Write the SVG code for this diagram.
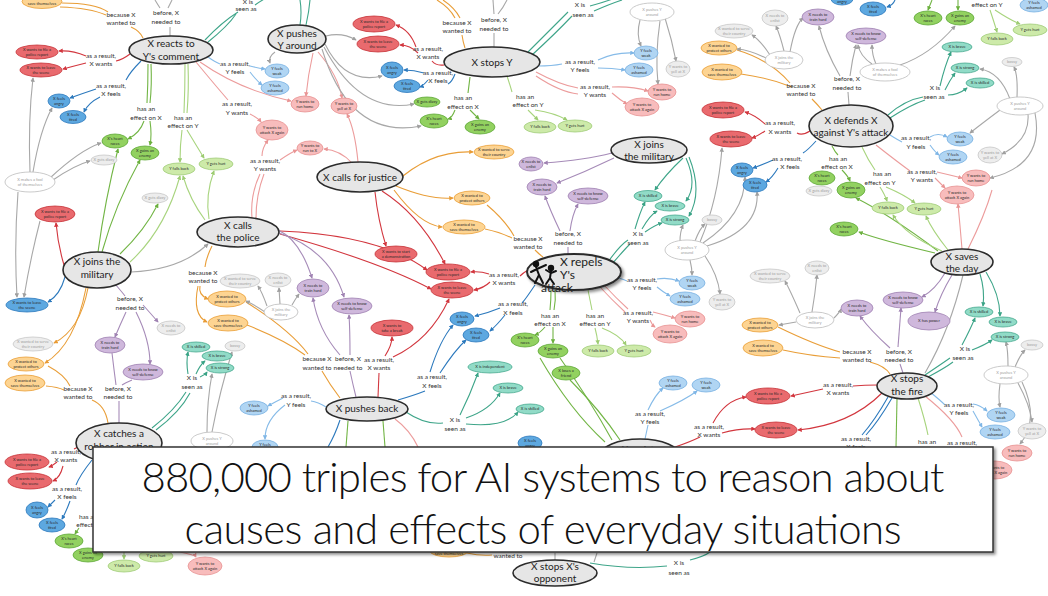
<svg xmlns="http://www.w3.org/2000/svg" width="1048" height="596" viewBox="0 0 1048 596">
<style>
text{font-family:Lato,"Open Sans","Liberation Sans",sans-serif}
.nd ellipse{stroke-width:.8}
.nd text{font-size:4px;fill:#2a2a2a;text-anchor:middle}
.r ellipse{fill:#e96a6e;stroke:#c73339}
.b ellipse{fill:#5da8e0;stroke:#2c79bd}
.lb ellipse{fill:#b0d5f3;stroke:#78b1e2}
.p ellipse{fill:#f8bcbc;stroke:#e79292}
.g ellipse{fill:#92d160;stroke:#5fa838}
.lg ellipse{fill:#cdeaa9;stroke:#9fcc77}
.o ellipse{fill:#fdd492;stroke:#eaa039}
.pu ellipse{fill:#cfb8dc;stroke:#9f82b2}
.t ellipse{fill:#91dbc7;stroke:#47aa8f}
.gr ellipse{fill:#ededed;stroke:#c8c8c8}
.w ellipse{fill:#fff;stroke:#bdbdbd}
.nd.gr text,.nd.w text{fill:#a0a0a0}
.m ellipse{fill:#e6e6e6;stroke:#2b2b2b;stroke-width:1.6}
.m text{font-size:10px;fill:#222;text-anchor:middle}
.lab text{font-size:6.5px;fill:#333;text-anchor:middle}
#connectors path{fill:none;stroke-width:1.1}
.er{stroke:#d2363e}.er.a{marker-end:url(#mr)}
.eb{stroke:#2c79bd}.eb.a{marker-end:url(#mb)}
.elb{stroke:#86bbe8}.elb.a{marker-end:url(#mlb)}
.ep{stroke:#ec9c9c}.ep.a{marker-end:url(#mp)}
.eg{stroke:#72b545}.eg.a{marker-end:url(#mg)}
.elg{stroke:#a8d47e}.elg.a{marker-end:url(#mlg)}
.eo{stroke:#e99e38}.eo.a{marker-end:url(#mo)}
.epu{stroke:#a68bb8}.epu.a{marker-end:url(#mpu)}
.et{stroke:#3ea589}.et.a{marker-end:url(#mt)}
.egr{stroke:#a8a8a8}.egr.a{marker-end:url(#mgr)}
</style>
<defs>
<marker id="mr" viewBox="0 0 6 6" refX="5" refY="3" markerWidth="4.5" markerHeight="4.5" orient="auto" markerUnits="userSpaceOnUse"><path d="M0,0L6,3L0,6z" fill="#d2363e"/></marker>
<marker id="mb" viewBox="0 0 6 6" refX="5" refY="3" markerWidth="4.5" markerHeight="4.5" orient="auto" markerUnits="userSpaceOnUse"><path d="M0,0L6,3L0,6z" fill="#2c79bd"/></marker>
<marker id="mlb" viewBox="0 0 6 6" refX="5" refY="3" markerWidth="4.5" markerHeight="4.5" orient="auto" markerUnits="userSpaceOnUse"><path d="M0,0L6,3L0,6z" fill="#7fb6e6"/></marker>
<marker id="mp" viewBox="0 0 6 6" refX="5" refY="3" markerWidth="4.5" markerHeight="4.5" orient="auto" markerUnits="userSpaceOnUse"><path d="M0,0L6,3L0,6z" fill="#e99595"/></marker>
<marker id="mg" viewBox="0 0 6 6" refX="5" refY="3" markerWidth="4.5" markerHeight="4.5" orient="auto" markerUnits="userSpaceOnUse"><path d="M0,0L6,3L0,6z" fill="#6bb03e"/></marker>
<marker id="mlg" viewBox="0 0 6 6" refX="5" refY="3" markerWidth="4.5" markerHeight="4.5" orient="auto" markerUnits="userSpaceOnUse"><path d="M0,0L6,3L0,6z" fill="#9dcc72"/></marker>
<marker id="mo" viewBox="0 0 6 6" refX="5" refY="3" markerWidth="4.5" markerHeight="4.5" orient="auto" markerUnits="userSpaceOnUse"><path d="M0,0L6,3L0,6z" fill="#e89b35"/></marker>
<marker id="mpu" viewBox="0 0 6 6" refX="5" refY="3" markerWidth="4.5" markerHeight="4.5" orient="auto" markerUnits="userSpaceOnUse"><path d="M0,0L6,3L0,6z" fill="#9f82b2"/></marker>
<marker id="mt" viewBox="0 0 6 6" refX="5" refY="3" markerWidth="4.5" markerHeight="4.5" orient="auto" markerUnits="userSpaceOnUse"><path d="M0,0L6,3L0,6z" fill="#3aa386"/></marker>
<marker id="mgr" viewBox="0 0 6 6" refX="5" refY="3" markerWidth="4.5" markerHeight="4.5" orient="auto" markerUnits="userSpaceOnUse"><path d="M0,0L6,3L0,6z" fill="#a0a0a0"/></marker>
<filter id="sh" x="-10%" y="-20%" width="130%" height="150%"><feDropShadow dx="2" dy="2" stdDeviation="1.5" flood-color="#000" flood-opacity="0.45"/></filter>
</defs>
<rect width="1048" height="596" fill="#fff"/>
<g id="connectors">
<path class="er" d="M130,54 Q122,60 116,61"/><path class="er" d="M444,65 Q436,66 432,61"/><path class="er" d="M810,131 Q802,136 797,133"/><path class="er" d="M528,270 Q523,273 520,276"/><path class="er" d="M877,385 Q865,385 853,386"/><path class="er" d="M378,397 L379,373"/><path class="er" d="M80,446 Q76,448 74,449"/><path class="er" d="M700,437 Q690,442 675,447"/>
<path class="er a" d="M86,56 Q72,50 59,51"/><path class="er a" d="M86,63 Q74,66 63,69"/><path class="er a" d="M416,47 Q410,30 396,25"/><path class="er a" d="M418,53 Q410,45 400,45"/><path class="er a" d="M765,124 Q755,115 745,112"/><path class="er a" d="M765,131 Q758,136 752,138"/><path class="er a" d="M375,192 Q378,220 386,246"/><path class="er a" d="M382,191 Q420,215 445,264"/><path class="er a" d="M280,231 Q380,235 427,270"/><path class="er a" d="M280,234 Q380,262 431,289"/><path class="er a" d="M64,265 Q58,245 56,223"/><path class="er a" d="M489,274 Q480,271 471,272"/><path class="er a" d="M490,282 Q484,288 474,290"/><path class="er a" d="M823,389 Q805,393 791,396"/><path class="er a" d="M882,393 Q850,425 798,430"/><path class="er a" d="M385,356 Q392,345 392,337"/><path class="er a" d="M393,357 Q430,340 449,299"/><path class="er a" d="M57,462 Q52,466 49,467"/><path class="er a" d="M63,466 Q60,478 53,481"/><path class="er a" d="M713,423 Q725,400 746,397"/><path class="er a" d="M722,433 Q740,428 755,429"/>
<path class="eb" d="M141,61 Q130,72 126,80"/><path class="eb" d="M455,74 Q452,82 448,84"/><path class="eb" d="M816,141 Q808,150 803,153"/><path class="eb" d="M535,285 Q525,300 522,303"/><path class="eb" d="M398,400 Q415,395 425,391"/><path class="eb" d="M92,460 Q80,475 76,485"/><path class="eb" d="M888,397 Q875,420 862,435"/><path class="eb" d="M892,398 Q878,422 866,435"/><path class="eb" d="M340,420 Q335,435 328,447"/>
<path class="eb a" d="M895,0 Q893,5 887,7"/><path class="eb a" d="M96,89 Q84,93 70,98"/><path class="eb a" d="M100,97 Q88,103 84,112"/><path class="eb a" d="M424,73 Q414,70 404,70"/><path class="eb a" d="M428,80 Q423,86 420,87"/><path class="eb a" d="M773,160 Q762,165 753,168"/><path class="eb a" d="M778,168 Q772,178 766,182"/><path class="eb a" d="M65,277 Q60,295 48,302"/><path class="eb a" d="M500,308 Q488,313 475,316"/><path class="eb a" d="M505,315 Q497,325 490,331"/><path class="eb a" d="M430,372 Q440,340 453,325"/><path class="eb a" d="M440,373 Q455,350 466,340"/><path class="eb a" d="M55,500 Q50,505 48,507"/><path class="eb a" d="M70,501 Q66,512 62,519"/>
<path class="elb" d="M208,57 Q215,62 220,64"/><path class="elb" d="M538,66 Q552,66 562,64"/><path class="elb" d="M890,135 Q898,140 902,142"/><path class="elb" d="M619,278 Q625,280 627,281"/><path class="elb" d="M326,407 Q318,402 311,401"/><path class="elb" d="M930,392 Q940,400 945,405"/><path class="elb" d="M648,425 L645,439"/>
<path class="elb a" d="M250,66 Q258,68 265,69"/><path class="elb a" d="M250,72 Q256,80 262,85"/><path class="elb a" d="M598,60 Q615,52 634,53"/><path class="elb a" d="M598,68 Q612,68 625,70"/><path class="elb a" d="M930,137 Q938,132 947,137"/><path class="elb a" d="M930,145 Q935,152 939,155"/><path class="elb a" d="M657,279 Q668,277 679,281"/><path class="elb a" d="M657,287 Q663,292 670,296"/><path class="elb a" d="M283,398 Q275,402 268,406"/><path class="elb a" d="M285,405 Q265,420 265,439"/><path class="elb a" d="M973,404 Q980,405 987,411"/><path class="elb a" d="M973,411 Q978,420 982,427"/><path class="elb a" d="M648,410 Q655,395 663,388"/><path class="elb a" d="M660,411 Q685,400 697,391"/>
<path class="ep" d="M196,62 Q215,85 228,100"/><path class="ep" d="M252,218 Q250,195 260,174"/><path class="ep" d="M256,218 Q256,195 264,174"/><path class="ep" d="M536,72 Q560,85 578,88"/><path class="ep" d="M536,76 Q560,92 578,94"/><path class="ep" d="M876,145 Q895,160 910,171"/><path class="ep" d="M600,287 Q612,300 625,312"/><path class="ep" d="M603,284 Q616,298 628,309"/><path class="ep" d="M968,249 Q985,215 992,190"/><path class="ep" d="M925,396 Q955,420 962,437"/><path class="ep" d="M395,419 Q410,430 418,447"/>
<path class="ep a" d="M200,62 Q240,90 291,101"/><path class="ep a" d="M250,114 Q258,118 261,122"/><path class="ep a" d="M262,156 Q262,148 268,140"/><path class="ep a" d="M280,160 Q290,153 297,150"/><path class="ep a" d="M313,53 Q308,75 306,96"/><path class="ep a" d="M318,52 Q338,75 342,98"/><path class="ep a" d="M358,162 Q355,130 347,114"/><path class="ep a" d="M352,163 Q340,150 324,149"/><path class="ep a" d="M612,87 Q632,86 648,91"/><path class="ep a" d="M612,93 Q620,100 627,104"/><path class="ep a" d="M937,172 Q950,175 962,178"/><path class="ep a" d="M935,178 Q942,185 945,188"/><path class="ep a" d="M653,312 Q665,315 675,318"/><path class="ep a" d="M650,320 Q652,325 655,327"/><path class="ep a" d="M962,249 Q960,225 958,204"/><path class="ep a" d="M180,552 Q195,555 196,557"/>
<path class="eg" d="M148,64 Q148,85 147,103"/><path class="eg" d="M151,64 Q152,85 150,103"/><path class="eg" d="M470,77 Q469,85 468,93"/><path class="eg" d="M832,146 Q835,152 838,155"/><path class="eg" d="M551,290 Q551,300 550,310"/><path class="eg" d="M555,290 Q556,300 554,310"/><path class="eg" d="M560,358 Q590,400 612,440"/><path class="eg" d="M570,380 Q600,410 620,440"/><path class="eg" d="M540,358 Q570,410 605,442"/><path class="eg" d="M897,399 L896,447"/><path class="eg" d="M348,421 L346,447"/><path class="eg" d="M383,421 L385,447"/>
<path class="eg a" d="M144,121 Q140,133 128,139"/><path class="eg a" d="M150,121 Q152,135 150,145"/><path class="eg a" d="M455,110 Q452,118 448,119"/><path class="eg a" d="M470,110 Q476,116 479,119"/><path class="eg a" d="M842,170 Q848,176 850,181"/><path class="eg a" d="M98,252 Q105,200 118,149"/><path class="eg a" d="M102,252 Q115,205 140,160"/><path class="eg a" d="M120,254 Q145,230 158,204"/><path class="eg a" d="M545,327 Q540,333 535,335"/><path class="eg a" d="M553,327 L553,343"/><path class="eg a" d="M935,253 Q880,240 859,232"/><path class="eg a" d="M938,251 Q890,215 856,198"/><path class="eg a" d="M932,0 Q930,5 928,10"/><path class="eg a" d="M958,0 Q958,5 958,10"/><path class="eg a" d="M79,528 L75,534"/>
<path class="elg" d="M185,64 Q185,90 184,113"/><path class="elg" d="M188,64 Q189,90 187,113"/><path class="elg" d="M507,76 Q510,85 512,92"/><path class="elg" d="M862,147 Q868,160 875,170"/><path class="elg" d="M588,290 Q590,300 592,310"/><path class="elg" d="M918,398 Q925,420 928,435"/>
<path class="elg a" d="M182,130 Q180,145 180,162"/><path class="elg a" d="M187,130 Q196,145 204,158"/><path class="elg a" d="M528,110 Q534,116 538,120"/><path class="elg a" d="M535,110 Q555,113 567,120"/><path class="elg a" d="M880,187 Q885,195 887,201"/><path class="elg a" d="M886,187 Q905,195 915,203"/><path class="elg a" d="M205,220 Q190,200 183,176"/><path class="elg a" d="M209,219 Q205,195 214,171"/><path class="elg a" d="M595,328 Q597,335 598,344"/><path class="elg a" d="M602,328 Q620,335 626,345"/><path class="elg a" d="M942,251 Q905,235 893,215"/><path class="elg a" d="M948,250 Q932,230 926,216"/><path class="elg a" d="M990,10 Q995,25 997,32"/><path class="elg a" d="M995,10 Q1010,20 1020,24"/><path class="elg a" d="M124,552 L124,559"/><path class="elg a" d="M130,262 Q165,230 180,176"/>
<path class="eo" d="M60,7 Q90,8 106,15"/><path class="eo" d="M62,3 Q95,3 108,12"/><path class="eo" d="M131,27 Q140,31 143,38"/><path class="eo" d="M437,0 Q450,8 455,18"/><path class="eo" d="M443,0 Q455,8 460,18"/><path class="eo" d="M462,35 Q463,42 465,48"/><path class="eo" d="M737,50 Q770,60 790,83"/><path class="eo" d="M741,74 Q770,78 792,87"/><path class="eo" d="M812,99 Q818,105 822,110"/><path class="eo" d="M212,246 Q206,258 205,267"/><path class="eo" d="M246,302 Q290,330 308,354"/><path class="eo" d="M247,325 Q285,340 305,355"/><path class="eo" d="M487,205 Q505,220 514,236"/><path class="eo" d="M485,229 Q500,232 512,238"/><path class="eo" d="M535,250 Q540,255 543,257"/><path class="eo" d="M48,366 Q65,375 70,386"/><path class="eo" d="M46,386 Q58,387 64,390"/><path class="eo" d="M92,400 Q105,405 108,423"/><path class="eo" d="M322,371 Q330,385 340,398"/><path class="eo" d="M778,327 Q815,345 840,352"/><path class="eo" d="M783,350 Q810,356 840,358"/><path class="eo" d="M870,362 Q885,366 890,374"/><path class="eo" d="M467,553 Q480,556 492,555"/>
<path class="eo a" d="M395,183 Q430,150 473,152"/><path class="eo a" d="M396,186 Q430,200 453,198"/><path class="eo a" d="M394,190 Q420,225 442,227"/><path class="eo a" d="M200,286 Q198,295 208,299"/><path class="eo a" d="M198,286 Q192,315 207,322"/><path class="eo a" d="M88,288 Q80,330 54,343"/><path class="eo a" d="M86,288 Q75,345 45,363"/>
<path class="epu" d="M115,284 Q122,292 125,296"/><path class="epu" d="M568,247 L568,254"/><path class="epu" d="M900,364 L903,373"/><path class="epu" d="M350,371 Q353,385 356,397"/><path class="epu" d="M119,401 L119,423"/><path class="epu" d="M112,353 Q114,370 116,385"/><path class="epu" d="M132,380 Q125,383 122,385"/>
<path class="epu a" d="M612,153 Q585,160 544,163"/><path class="epu a" d="M614,158 Q585,172 557,183"/><path class="epu a" d="M278,230 Q300,240 312,278"/><path class="epu a" d="M279,233 Q330,250 344,297"/><path class="epu a" d="M143,305 Q152,315 158,322"/><path class="epu a" d="M126,312 Q120,325 115,337"/><path class="epu a" d="M136,312 Q150,340 150,364"/><path class="epu a" d="M560,231 Q550,210 545,196"/><path class="epu a" d="M570,231 Q572,215 578,204"/><path class="epu a" d="M945,273 Q935,290 922,297"/><path class="epu a" d="M952,275 Q940,295 935,312"/><path class="epu a" d="M890,348 Q870,330 860,316"/><path class="epu a" d="M898,347 Q900,320 901,308"/><path class="epu a" d="M340,355 Q318,330 313,298"/><path class="epu a" d="M350,355 Q350,330 349,315"/>
<path class="et" d="M205,40 Q222,22 238,12"/><path class="et" d="M208,42 Q228,26 236,14"/><path class="et" d="M255,5 Q262,0 268,-3"/><path class="et" d="M300,25 Q302,12 300,0"/><path class="et" d="M306,25 Q309,12 310,0"/><path class="et" d="M528,52 Q550,30 568,12"/><path class="et" d="M532,55 Q556,33 572,16"/><path class="et" d="M590,6 Q605,2 615,-2"/><path class="et" d="M594,11 Q610,4 622,0"/><path class="et" d="M888,115 Q905,100 923,97"/><path class="et" d="M890,118 Q910,105 925,100"/><path class="et" d="M608,262 Q620,245 628,240"/><path class="et" d="M612,264 Q624,250 630,244"/><path class="et" d="M925,375 Q940,365 950,358"/><path class="et" d="M928,377 Q945,368 953,362"/><path class="et" d="M406,412 Q425,425 443,423"/><path class="et" d="M152,428 Q175,410 186,392"/><path class="et" d="M156,430 Q180,412 190,393"/><path class="et" d="M590,563 Q630,570 667,566"/><path class="et" d="M690,560 Q705,556 710,552"/>
<path class="et a" d="M980,274 Q985,290 983,306"/><path class="et a" d="M986,272 Q1000,295 1000,316"/><path class="et a" d="M683,158 Q665,175 655,190"/><path class="et a" d="M686,158 Q698,185 686,201"/><path class="et a" d="M689,157 Q703,192 689,216"/><path class="et a" d="M940,86 Q945,65 951,52"/><path class="et a" d="M945,90 Q950,80 955,73"/><path class="et a" d="M948,95 Q958,95 967,88"/><path class="et a" d="M635,229 Q640,212 645,202"/><path class="et a" d="M642,229 Q650,215 657,211"/><path class="et a" d="M645,232 Q655,225 662,223"/><path class="et a" d="M962,345 Q970,330 975,318"/><path class="et a" d="M972,350 Q985,345 992,340"/><path class="et a" d="M460,415 Q470,395 478,373"/><path class="et a" d="M466,418 Q490,410 500,393"/><path class="et a" d="M466,424 Q505,428 518,412"/><path class="et a" d="M188,374 Q186,362 188,352"/><path class="et a" d="M196,374 Q200,365 205,361"/><path class="et a" d="M200,377 Q205,375 207,372"/>
<path class="egr" d="M155,0 Q158,5 160,8"/><path class="egr" d="M172,0 Q170,4 168,8"/><path class="egr" d="M170,27 L170,36"/><path class="egr" d="M493,0 L494,14"/><path class="egr" d="M507,0 Q503,8 498,14"/><path class="egr" d="M494,33 L494,47"/><path class="egr" d="M848,92 L849,105"/><path class="egr" d="M963,275 Q950,330 925,373"/><path class="egr" d="M555,553 L555,560"/><path class="egr" d="M597,553 L594,562"/>
<path class="egr a" d="M131,272 Q180,270 208,244"/><path class="egr a" d="M207,432 Q207,400 212,374"/><path class="egr a" d="M212,432 Q220,390 232,352"/><path class="egr a" d="M326,36 Q342,32 356,40"/><path class="egr a" d="M325,44 Q345,85 382,76"/><path class="egr a" d="M324,47 Q360,115 414,104"/><path class="egr a" d="M322,49 Q350,140 421,126"/><path class="egr a" d="M275,52 Q268,57 270,63"/><path class="egr a" d="M640,20 Q636,35 641,46"/><path class="egr a" d="M665,18 Q672,40 676,61"/><path class="egr a" d="M660,21 Q655,55 658,84"/><path class="egr a" d="M840,76 Q825,50 819,26"/><path class="egr a" d="M850,76 Q852,60 856,45"/><path class="egr a" d="M872,64 Q860,56 858,45"/><path class="egr a" d="M876,64 Q872,55 872,45"/><path class="egr a" d="M900,65 Q930,55 955,26"/><path class="egr a" d="M1017,97 Q1018,75 1014,67"/><path class="egr a" d="M1010,99 Q1000,72 980,69"/><path class="egr a" d="M1000,110 Q980,125 970,133"/><path class="egr a" d="M1028,114 Q1030,140 1002,154"/><path class="egr a" d="M1035,113 Q1045,165 990,178"/><path class="egr a" d="M784,51 Q780,35 776,26"/><path class="egr a" d="M770,55 Q760,40 752,35"/><path class="egr a" d="M766,58 Q750,50 737,49"/><path class="egr a" d="M790,52 Q795,25 803,18"/><path class="egr a" d="M280,304 L279,288"/><path class="egr a" d="M267,306 Q262,292 258,286"/><path class="egr a" d="M265,312 Q255,305 246,301"/><path class="egr a" d="M292,305 Q296,298 299,294"/><path class="egr a" d="M695,241 Q700,228 705,224"/><path class="egr a" d="M680,241 Q680,232 683,225"/><path class="egr a" d="M690,260 Q692,268 692,275"/><path class="egr a" d="M705,256 Q718,275 720,294"/><path class="egr a" d="M707,246 Q760,230 757,192"/><path class="egr a" d="M703,243 Q745,215 745,177"/><path class="egr a" d="M700,242 Q718,200 722,148"/><path class="egr a" d="M812,312 Q815,295 817,275"/><path class="egr a" d="M834,318 Q840,312 841,309"/><path class="egr a" d="M800,313 Q790,290 785,281"/><path class="egr a" d="M796,322 L779,325"/><path class="egr a" d="M1015,367 Q1020,355 1025,350"/><path class="egr a" d="M1008,366 Q1008,350 1006,342"/><path class="egr a" d="M1000,384 Q998,398 1000,407"/><path class="egr a" d="M1018,383 Q1030,405 1032,422"/><path class="egr a" d="M1022,382 Q1040,420 1020,444"/><path class="egr a" d="M30,172 Q28,120 33,78"/><path class="egr a" d="M33,172 Q40,130 52,108"/><path class="egr a" d="M50,178 Q80,150 101,143"/><path class="egr a" d="M53,180 Q75,165 90,161"/><path class="egr a" d="M18,192 Q14,245 17,297"/><path class="egr a" d="M40,221 Q30,260 24,297"/>
<g class="lab">
<text x="121" y="17">because X</text><text x="121" y="25">wanted to</text>
<text x="166" y="15">before, X</text><text x="166" y="24">needed to</text>
<text x="248" y="4">X is</text><text x="246" y="11">seen as</text>
<text x="101" y="58">as a result,</text><text x="101" y="66">X wants</text>
<text x="111" y="88">as a result,</text><text x="111" y="96">X feels</text>
<text x="146" y="111">has an</text><text x="146" y="120">effect on X</text>
<text x="183" y="120">has an</text><text x="183" y="128">effect on Y</text>
<text x="235" y="66">as a result,</text><text x="235" y="74">Y feels</text>
<text x="237" y="106">as a result,</text><text x="237" y="115">Y wants</text>
<text x="265" y="163">as a result,</text><text x="265" y="171">Y wants</text>
<text x="457" y="25">because X</text><text x="457" y="33">wanted to</text>
<text x="494" y="22">before, X</text><text x="494" y="31">needed to</text>
<text x="428" y="51">as a result,</text><text x="428" y="59">X wants</text>
<text x="438" y="75">as a result,</text><text x="438" y="83">X feels</text>
<text x="463" y="100">has an</text><text x="463" y="109">effect on X</text>
<text x="525" y="99">has an</text><text x="528" y="107">effect on Y</text>
<text x="580" y="64">as a result,</text><text x="580" y="72">Y feels</text>
<text x="595" y="89">as a result,</text><text x="595" y="97">Y wants</text>
<text x="580" y="7">X is</text><text x="583" y="17">seen as</text>
<text x="801" y="88">because X</text><text x="801" y="96">wanted to</text>
<text x="847" y="81">before, X</text><text x="847" y="90">needed to</text>
<text x="935" y="90">X is</text><text x="934" y="99">seen as</text>
<text x="780" y="125">as a result,</text><text x="780" y="134">X wants</text>
<text x="787" y="161">as a result,</text><text x="790" y="169">X feels</text>
<text x="838" y="161">has an</text><text x="837" y="169">effect on X</text>
<text x="882" y="176">has an</text><text x="880" y="185">effect on Y</text>
<text x="916" y="140">as a result,</text><text x="916" y="149">Y feels</text>
<text x="922" y="174">as a result,</text><text x="922" y="182">Y wants</text>
<text x="987" y="7">effect on Y</text>
<text x="203" y="275">because X</text><text x="203" y="283">wanted to</text>
<text x="130" y="301">before, X</text><text x="130" y="310">needed to</text>
<text x="528" y="241">because X</text><text x="528" y="249">wanted to</text>
<text x="568" y="236">before, X</text><text x="568" y="245">needed to</text>
<text x="638" y="236">X is</text><text x="638" y="245">seen as</text>
<text x="504" y="277">as a result,</text><text x="504" y="285">X wants</text>
<text x="513" y="306">as a result,</text><text x="513" y="315">X feels</text>
<text x="550" y="318">has an</text><text x="550" y="326">effect on X</text>
<text x="595" y="318">has an</text><text x="595" y="326">effect on Y</text>
<text x="642" y="282">as a result,</text><text x="642" y="290">Y feels</text>
<text x="638" y="315">as a result,</text><text x="638" y="323">Y wants</text>
<text x="857" y="354">because X</text><text x="857" y="362">wanted to</text>
<text x="899" y="354">before, X</text><text x="899" y="362">needed to</text>
<text x="965" y="351">X is</text><text x="963" y="360">seen as</text>
<text x="838" y="387">as a result,</text><text x="838" y="395">X wants</text>
<text x="959" y="407">as a result,</text><text x="959" y="415">Y feels</text>
<text x="856" y="441">as a result,</text><text x="856" y="449">X feels</text>
<text x="927" y="444">has an</text><text x="927" y="452">effect on X</text>
<text x="962" y="445">as a result,</text><text x="962" y="453">Y wants</text>
<text x="317" y="361">because X</text><text x="317" y="370">wanted to</text>
<text x="348" y="361">before, X</text><text x="348" y="370">needed to</text>
<text x="379" y="362">as a result,</text><text x="379" y="370">X wants</text>
<text x="432" y="379">as a result,</text><text x="432" y="388">X feels</text>
<text x="296" y="398">as a result,</text><text x="296" y="407">Y feels</text>
<text x="455" y="422">X is</text><text x="455" y="431">seen as</text>
<text x="78" y="391">because X</text><text x="78" y="399">wanted to</text>
<text x="118" y="391">before, X</text><text x="118" y="399">needed to</text>
<text x="192" y="380">X is</text><text x="192" y="389">seen as</text>
<text x="66" y="454">as a result,</text><text x="66" y="462">X wants</text>
<text x="67" y="491">as a result,</text><text x="67" y="499">X feels</text>
<text x="88" y="519">has an</text><text x="92" y="527">effect on X</text>
<text x="650" y="416">as a result,</text><text x="650" y="424">Y feels</text>
<text x="709" y="429">as a result,</text><text x="709" y="437">X wants</text>
<text x="679" y="565">X is</text><text x="679" y="575">seen as</text>
<text x="508" y="558">wanted to</text>
</g>
</g>
<g id="n1" class="nd o"><ellipse cx="42" cy="1.5" rx="20" ry="7"/><text x="42" y="5.2">save themselves</text></g>
<g id="n2" class="nd r"><ellipse cx="37" cy="52" rx="21" ry="7"/><text x="37" y="51.4">X wants to file a<tspan x="37" dy="4.2">police report</tspan></text></g>
<g id="n3" class="nd r"><ellipse cx="41" cy="70" rx="21" ry="7"/><text x="41" y="69.4">X wants to leave<tspan x="41" dy="4.2">the scene</tspan></text></g>
<g id="n4" class="nd b"><ellipse cx="59" cy="101" rx="11" ry="7"/><text x="59" y="100.4">X feels<tspan x="59" dy="4.2">angry</tspan></text></g>
<g id="n5" class="nd b"><ellipse cx="73" cy="117" rx="13" ry="6.5"/><text x="73" y="116.4">X feels<tspan x="73" dy="4.2">tired</tspan></text></g>
<g id="n6" class="nd g"><ellipse cx="115" cy="141" rx="13" ry="7"/><text x="115" y="140.4">X's heart<tspan x="115" dy="4.2">races</tspan></text></g>
<g id="n7" class="nd g"><ellipse cx="145" cy="153" rx="14" ry="7"/><text x="145" y="152.4">X gains an<tspan x="145" dy="4.2">enemy</tspan></text></g>
<g id="n8" class="nd gr"><ellipse cx="104" cy="160" rx="13" ry="5"/><text x="104" y="161.4">X gets dizzy</text></g>
<g id="n9" class="nd lg"><ellipse cx="179" cy="169" rx="16" ry="6"/><text x="179" y="170.4">Y falls back</text></g>
<g id="n10" class="nd lg"><ellipse cx="216" cy="164" rx="17" ry="6"/><text x="216" y="165.4">Y gets hurt</text></g>
<g id="n11" class="nd gr"><ellipse cx="155" cy="198" rx="13" ry="5"/><text x="155" y="199.4">X gets dizzy</text></g>
<g id="n12" class="nd w"><ellipse cx="30" cy="182" rx="25" ry="10"/><text x="30" y="181.4">X makes a fool<tspan x="30" dy="4.2">of themselves</tspan></text></g>
<g id="n13" class="nd lb"><ellipse cx="277" cy="71" rx="12" ry="7"/><text x="277" y="70.4">Y feels<tspan x="277" dy="4.2">weak</tspan></text></g>
<g id="n14" class="nd lb"><ellipse cx="275" cy="88" rx="14" ry="7"/><text x="275" y="87.4">Y feels<tspan x="275" dy="4.2">ashamed</tspan></text></g>
<g id="n15" class="nd p"><ellipse cx="305" cy="104" rx="14" ry="8"/><text x="305" y="103.4">Y wants to<tspan x="305" dy="4.2">run home</tspan></text></g>
<g id="n16" class="nd p"><ellipse cx="344" cy="106" rx="13" ry="8"/><text x="344" y="105.4">Y wants to<tspan x="344" dy="4.2">yell at X</tspan></text></g>
<g id="n17" class="nd p"><ellipse cx="272" cy="130" rx="16" ry="10"/><text x="272" y="129.4">Y wants to<tspan x="272" dy="4.2">attack X again</tspan></text></g>
<g id="n18" class="nd p"><ellipse cx="310" cy="148" rx="13" ry="7"/><text x="310" y="147.4">Y wants to<tspan x="310" dy="4.2">run to X</tspan></text></g>
<g id="n19" class="nd r"><ellipse cx="374" cy="24" rx="21" ry="8"/><text x="374" y="23.4">X wants to file a<tspan x="374" dy="4.2">police report</tspan></text></g>
<g id="n20" class="nd r"><ellipse cx="378" cy="44" rx="21" ry="8"/><text x="378" y="43.4">X wants to leave<tspan x="378" dy="4.2">the scene</tspan></text></g>
<g id="n21" class="nd b"><ellipse cx="392" cy="70" rx="11" ry="8"/><text x="392" y="69.4">X feels<tspan x="392" dy="4.2">angry</tspan></text></g>
<g id="n22" class="nd b"><ellipse cx="407" cy="86" rx="13" ry="6.5"/><text x="407" y="85.4">X feels<tspan x="407" dy="4.2">tired</tspan></text></g>
<g id="n23" class="nd g"><ellipse cx="427" cy="102" rx="13" ry="5"/><text x="427" y="103.4">X gets dizzy</text></g>
<g id="n24" class="nd g"><ellipse cx="434" cy="121" rx="14" ry="7"/><text x="434" y="120.4">X's heart<tspan x="434" dy="4.2">races</tspan></text></g>
<g id="n25" class="nd g"><ellipse cx="480" cy="127" rx="15" ry="7"/><text x="480" y="126.4">X gains an<tspan x="480" dy="4.2">enemy</tspan></text></g>
<g id="n26" class="nd o"><ellipse cx="494" cy="152" rx="20" ry="7"/><text x="494" y="151.4">X wanted to serve<tspan x="494" dy="4.2">their country</tspan></text></g>
<g id="n27" class="nd o"><ellipse cx="472" cy="198" rx="18" ry="7"/><text x="472" y="197.4">X wanted to<tspan x="472" dy="4.2">protect others</tspan></text></g>
<g id="n28" class="nd pu"><ellipse cx="531" cy="164" rx="12" ry="7"/><text x="531" y="163.4">X needs to<tspan x="531" dy="4.2">enlist</tspan></text></g>
<g id="n29" class="nd pu"><ellipse cx="542" cy="187" rx="15" ry="8"/><text x="542" y="186.4">X needs to<tspan x="542" dy="4.2">train hard</tspan></text></g>
<g id="n30" class="nd pu"><ellipse cx="588" cy="196" rx="20" ry="8"/><text x="588" y="195.4">X needs to know<tspan x="588" dy="4.2">self-defense</tspan></text></g>
<g id="n31" class="nd t"><ellipse cx="648" cy="196" rx="14" ry="5.5"/><text x="648" y="197.4">X is skilled</text></g>
<g id="n32" class="nd t"><ellipse cx="670" cy="206" rx="15" ry="5"/><text x="670" y="207.4">X is brave</text></g>
<g id="n33" class="nd t"><ellipse cx="675" cy="220" rx="14" ry="5"/><text x="675" y="221.4">X is strong</text></g>
<g id="n34" class="nd gr"><ellipse cx="712" cy="220" rx="10" ry="5"/><text x="712" y="221.4">bossy</text></g>
<g id="n35" class="nd w"><ellipse cx="687" cy="250" rx="22" ry="10"/><text x="687" y="249.4">X pushes Y<tspan x="687" dy="4.2">around</tspan></text></g>
<g id="n36" class="nd lg"><ellipse cx="540" cy="127" rx="16" ry="6"/><text x="540" y="128.4">Y falls back</text></g>
<g id="n37" class="nd lg"><ellipse cx="575" cy="126" rx="17" ry="6"/><text x="575" y="127.4">Y gets hurt</text></g>
<g id="n38" class="nd w"><ellipse cx="652" cy="12" rx="22" ry="9"/><text x="652" y="11.4">X pushes Y<tspan x="652" dy="4.2">around</tspan></text></g>
<g id="n39" class="nd lb"><ellipse cx="646" cy="53" rx="12" ry="7"/><text x="646" y="52.4">Y feels<tspan x="646" dy="4.2">weak</tspan></text></g>
<g id="n40" class="nd lb"><ellipse cx="639" cy="70" rx="14" ry="7"/><text x="639" y="69.4">Y feels<tspan x="639" dy="4.2">ashamed</tspan></text></g>
<g id="n41" class="nd gr"><ellipse cx="678" cy="69" rx="12" ry="8"/><text x="678" y="68.4">Y wants to<tspan x="678" dy="4.2">yell at X</tspan></text></g>
<g id="n42" class="nd p"><ellipse cx="662" cy="92" rx="14" ry="8"/><text x="662" y="91.4">Y wants to<tspan x="662" dy="4.2">run home</tspan></text></g>
<g id="n43" class="nd p"><ellipse cx="642" cy="107" rx="17" ry="9"/><text x="642" y="106.4">Y wants to<tspan x="642" dy="4.2">attack X again</tspan></text></g>
<g id="n44" class="nd gr"><ellipse cx="775" cy="18" rx="13" ry="8"/><text x="775" y="17.4">X needs to<tspan x="775" dy="4.2">enlist</tspan></text></g>
<g id="n45" class="nd gr"><ellipse cx="734" cy="31" rx="19" ry="7"/><text x="734" y="30.4">X wanted to serve<tspan x="734" dy="4.2">their country</tspan></text></g>
<g id="n46" class="nd o"><ellipse cx="719" cy="48" rx="18" ry="7"/><text x="719" y="47.4">X wanted to<tspan x="719" dy="4.2">protect others</tspan></text></g>
<g id="n47" class="nd o"><ellipse cx="722" cy="72" rx="20" ry="8"/><text x="722" y="71.4">X wanted to<tspan x="722" dy="4.2">save themselves</tspan></text></g>
<g id="n48" class="nd w"><ellipse cx="784" cy="60" rx="19" ry="9"/><text x="784" y="59.4">X joins the<tspan x="784" dy="4.2">military</tspan></text></g>
<g id="n49" class="nd r"><ellipse cx="723" cy="110" rx="21" ry="8"/><text x="723" y="109.4">X wants to file a<tspan x="723" dy="4.2">police report</tspan></text></g>
<g id="n50" class="nd r"><ellipse cx="731" cy="139" rx="21" ry="8"/><text x="731" y="138.4">X wants to leave<tspan x="731" dy="4.2">the scene</tspan></text></g>
<g id="n51" class="nd b"><ellipse cx="742" cy="170" rx="11" ry="7"/><text x="742" y="169.4">X feels<tspan x="742" dy="4.2">angry</tspan></text></g>
<g id="n52" class="nd b"><ellipse cx="755" cy="185" rx="12" ry="7"/><text x="755" y="184.4">X feels<tspan x="755" dy="4.2">tired</tspan></text></g>
<g id="n53" class="nd b"><ellipse cx="842" cy="-1" rx="11" ry="6"/><text x="842" y="3">angry</text></g>
<g id="n54" class="nd b"><ellipse cx="873" cy="9" rx="13" ry="7"/><text x="873" y="8.4">X feels<tspan x="873" dy="4.2">tired</tspan></text></g>
<g id="n55" class="nd g"><ellipse cx="928" cy="18" rx="14" ry="7"/><text x="928" y="17.4">X's heart<tspan x="928" dy="4.2">races</tspan></text></g>
<g id="n56" class="nd g"><ellipse cx="960" cy="18" rx="14" ry="7"/><text x="960" y="17.4">X gains an<tspan x="960" dy="4.2">enemy</tspan></text></g>
<g id="n57" class="nd lb"><ellipse cx="1034" cy="5" rx="14" ry="7"/><text x="1034" y="4.4">Y feels<tspan x="1034" dy="4.2">ashamed</tspan></text></g>
<g id="n58" class="nd lg"><ellipse cx="997" cy="39" rx="16" ry="6"/><text x="997" y="40.4">Y falls back</text></g>
<g id="n59" class="nd lg"><ellipse cx="1030" cy="30" rx="17" ry="6"/><text x="1030" y="31.4">Y gets hurt</text></g>
<g id="n60" class="nd pu"><ellipse cx="818" cy="17" rx="16" ry="8"/><text x="818" y="16.4">X needs to<tspan x="818" dy="4.2">train hard</tspan></text></g>
<g id="n61" class="nd pu"><ellipse cx="866" cy="36" rx="20" ry="8"/><text x="866" y="35.4">X needs to know<tspan x="866" dy="4.2">self-defense</tspan></text></g>
<g id="n62" class="nd w"><ellipse cx="885" cy="72" rx="25" ry="9"/><text x="885" y="71.4">X makes a fool<tspan x="885" dy="4.2">of themselves</tspan></text></g>
<g id="n63" class="nd t"><ellipse cx="957" cy="47" rx="15" ry="5"/><text x="957" y="48.4">X is brave</text></g>
<g id="n64" class="nd t"><ellipse cx="965" cy="68" rx="14" ry="5"/><text x="965" y="69.4">X is strong</text></g>
<g id="n65" class="nd t"><ellipse cx="980" cy="83" rx="14" ry="5"/><text x="980" y="84.4">X is skilled</text></g>
<g id="n66" class="nd gr"><ellipse cx="1012" cy="62" rx="10" ry="4.5"/><text x="1012" y="63.4">bossy</text></g>
<g id="n67" class="nd w"><ellipse cx="1020" cy="106" rx="23" ry="9"/><text x="1020" y="105.4">X pushes Y<tspan x="1020" dy="4.2">around</tspan></text></g>
<g id="n68" class="nd lb"><ellipse cx="960" cy="139" rx="13" ry="7"/><text x="960" y="138.4">Y feels<tspan x="960" dy="4.2">weak</tspan></text></g>
<g id="n69" class="nd lb"><ellipse cx="953" cy="157" rx="14" ry="7"/><text x="953" y="156.4">Y feels<tspan x="953" dy="4.2">ashamed</tspan></text></g>
<g id="n70" class="nd gr"><ellipse cx="990" cy="155" rx="12" ry="8"/><text x="990" y="154.4">Y wants to<tspan x="990" dy="4.2">yell at X</tspan></text></g>
<g id="n71" class="nd p"><ellipse cx="976" cy="178" rx="14" ry="8"/><text x="976" y="177.4">Y wants to<tspan x="976" dy="4.2">run home</tspan></text></g>
<g id="n72" class="nd p"><ellipse cx="957" cy="195" rx="17" ry="9"/><text x="957" y="194.4">Y wants to<tspan x="957" dy="4.2">attack X again</tspan></text></g>
<g id="n73" class="nd g"><ellipse cx="822" cy="178" rx="13" ry="7"/><text x="822" y="177.4">X's heart<tspan x="822" dy="4.2">races</tspan></text></g>
<g id="n74" class="nd gr"><ellipse cx="819" cy="191" rx="13" ry="5"/><text x="819" y="192.4">X gets dizzy</text></g>
<g id="n75" class="nd g"><ellipse cx="851" cy="190" rx="14" ry="8"/><text x="851" y="189.4">X gains an<tspan x="851" dy="4.2">enemy</tspan></text></g>
<g id="n76" class="nd lg"><ellipse cx="888" cy="208" rx="16" ry="6"/><text x="888" y="209.4">Y falls back</text></g>
<g id="n77" class="nd lg"><ellipse cx="924" cy="209" rx="17" ry="6"/><text x="924" y="210.4">Y gets hurt</text></g>
<g id="n78" class="nd g"><ellipse cx="844" cy="229" rx="14" ry="7"/><text x="844" y="228.4">X's heart<tspan x="844" dy="4.2">races</tspan></text></g>
<g id="n79" class="nd gr"><ellipse cx="817" cy="268" rx="12" ry="7"/><text x="817" y="267.4">X needs to<tspan x="817" dy="4.2">enlist</tspan></text></g>
<g id="n80" class="nd w"><ellipse cx="815" cy="320" rx="19" ry="8"/><text x="815" y="319.4">X joins the<tspan x="815" dy="4.2">military</tspan></text></g>
<g id="n81" class="nd pu"><ellipse cx="857" cy="308" rx="16" ry="8"/><text x="857" y="307.4">X needs to<tspan x="857" dy="4.2">train hard</tspan></text></g>
<g id="n82" class="nd pu"><ellipse cx="903" cy="300" rx="20" ry="8"/><text x="903" y="299.4">X needs to know<tspan x="903" dy="4.2">self-defense</tspan></text></g>
<g id="n83" class="nd pu"><ellipse cx="929" cy="321" rx="21" ry="9"/><text x="929" y="322.4">X has power</text></g>
<g id="n84" class="nd t"><ellipse cx="979" cy="312" rx="14" ry="5"/><text x="979" y="313.4">X is skilled</text></g>
<g id="n85" class="nd t"><ellipse cx="1003" cy="322" rx="14" ry="5"/><text x="1003" y="323.4">X is brave</text></g>
<g id="n86" class="nd t"><ellipse cx="1005" cy="337" rx="14" ry="5"/><text x="1005" y="338.4">X is strong</text></g>
<g id="n87" class="nd gr"><ellipse cx="1032" cy="345" rx="11" ry="5"/><text x="1032" y="346.4">bossy</text></g>
<g id="n88" class="nd w"><ellipse cx="1006" cy="375" rx="22" ry="9"/><text x="1006" y="374.4">X pushes Y<tspan x="1006" dy="4.2">around</tspan></text></g>
<g id="n89" class="nd lb"><ellipse cx="1001" cy="415" rx="14" ry="7"/><text x="1001" y="414.4">Y feels<tspan x="1001" dy="4.2">weak</tspan></text></g>
<g id="n90" class="nd lb"><ellipse cx="995" cy="432" rx="15" ry="7"/><text x="995" y="431.4">Y feels<tspan x="995" dy="4.2">ashamed</tspan></text></g>
<g id="n91" class="nd gr"><ellipse cx="1032" cy="431" rx="14" ry="8"/><text x="1032" y="430.4">Y wants to<tspan x="1032" dy="4.2">yell at X</tspan></text></g>
<g id="n92" class="nd p"><ellipse cx="1017" cy="453" rx="15" ry="8"/><text x="1017" y="452.4">Y wants to<tspan x="1017" dy="4.2">run home</tspan></text></g>
<g id="n93" class="nd p"><ellipse cx="995" cy="470" rx="17" ry="9"/><text x="995" y="469.4">Y wants to<tspan x="995" dy="4.2">attack X again</tspan></text></g>
<g id="n94" class="nd gr"><ellipse cx="770" cy="276" rx="20" ry="7"/><text x="770" y="275.4">X wanted to serve<tspan x="770" dy="4.2">their country</tspan></text></g>
<g id="n95" class="nd o"><ellipse cx="760" cy="325" rx="18" ry="7"/><text x="760" y="324.4">X wanted to<tspan x="760" dy="4.2">protect others</tspan></text></g>
<g id="n96" class="nd o"><ellipse cx="763" cy="348" rx="20" ry="8"/><text x="763" y="347.4">X wanted to<tspan x="763" dy="4.2">save themselves</tspan></text></g>
<g id="n97" class="nd lb"><ellipse cx="692" cy="283" rx="13" ry="7"/><text x="692" y="282.4">Y feels<tspan x="692" dy="4.2">weak</tspan></text></g>
<g id="n98" class="nd lb"><ellipse cx="685" cy="299" rx="15" ry="7"/><text x="685" y="298.4">Y feels<tspan x="685" dy="4.2">ashamed</tspan></text></g>
<g id="n99" class="nd gr"><ellipse cx="722" cy="302" rx="13" ry="8"/><text x="722" y="301.4">Y wants to<tspan x="722" dy="4.2">yell at X</tspan></text></g>
<g id="n100" class="nd p"><ellipse cx="690" cy="319" rx="15" ry="8"/><text x="690" y="318.4">Y wants to<tspan x="690" dy="4.2">run home</tspan></text></g>
<g id="n101" class="nd p"><ellipse cx="670" cy="334" rx="17" ry="9"/><text x="670" y="333.4">Y wants to<tspan x="670" dy="4.2">attack X again</tspan></text></g>
<g id="n102" class="nd g"><ellipse cx="525" cy="340" rx="14" ry="7"/><text x="525" y="339.4">X's heart<tspan x="525" dy="4.2">races</tspan></text></g>
<g id="n103" class="nd g"><ellipse cx="553" cy="351" rx="15" ry="7"/><text x="553" y="350.4">X gains an<tspan x="553" dy="4.2">enemy</tspan></text></g>
<g id="n104" class="nd g"><ellipse cx="566" cy="373" rx="14" ry="7"/><text x="566" y="372.4">X loses a<tspan x="566" dy="4.2">friend</tspan></text></g>
<g id="n105" class="nd lg"><ellipse cx="598" cy="351" rx="16" ry="6"/><text x="598" y="352.4">Y falls back</text></g>
<g id="n106" class="nd lg"><ellipse cx="634" cy="351" rx="17" ry="6"/><text x="634" y="352.4">Y gets hurt</text></g>
<g id="n107" class="nd lb"><ellipse cx="673" cy="383" rx="14" ry="7"/><text x="673" y="382.4">Y feels<tspan x="673" dy="4.2">ashamed</tspan></text></g>
<g id="n108" class="nd lb"><ellipse cx="706" cy="385" rx="14" ry="7"/><text x="706" y="384.4">Y feels<tspan x="706" dy="4.2">weak</tspan></text></g>
<g id="n109" class="nd r"><ellipse cx="768" cy="396" rx="22" ry="8"/><text x="768" y="395.4">X wants to file a<tspan x="768" dy="4.2">police report</tspan></text></g>
<g id="n110" class="nd r"><ellipse cx="776" cy="430" rx="21" ry="8"/><text x="776" y="429.4">X wants to leave<tspan x="776" dy="4.2">the scene</tspan></text></g>
<g id="n111" class="nd t"><ellipse cx="530" cy="409" rx="14" ry="5"/><text x="530" y="410.4">X is skilled</text></g>
<g id="n112" class="nd b"><ellipse cx="530" cy="443" rx="12" ry="7"/><text x="530" y="442.4">X feels<tspan x="530" dy="4.2">angry</tspan></text></g>
<g id="n113" class="nd t"><ellipse cx="490" cy="367" rx="22" ry="6"/><text x="490" y="368.4">X is independent</text></g>
<g id="n114" class="nd t"><ellipse cx="508" cy="388" rx="15" ry="5"/><text x="508" y="389.4">X is brave</text></g>
<g id="n115" class="nd r"><ellipse cx="396" cy="254" rx="21" ry="8"/><text x="396" y="253.4">X wants to start<tspan x="396" dy="4.2">a demonstration</tspan></text></g>
<g id="n116" class="nd r"><ellipse cx="448" cy="272" rx="22" ry="8"/><text x="448" y="271.4">X wants to file a<tspan x="448" dy="4.2">police report</tspan></text></g>
<g id="n117" class="nd r"><ellipse cx="452" cy="290" rx="21" ry="8"/><text x="452" y="289.4">X wants to leave<tspan x="452" dy="4.2">the scene</tspan></text></g>
<g id="n118" class="nd b"><ellipse cx="462" cy="319" rx="12" ry="7"/><text x="462" y="318.4">X feels<tspan x="462" dy="4.2">angry</tspan></text></g>
<g id="n119" class="nd b"><ellipse cx="476" cy="335" rx="13" ry="7"/><text x="476" y="334.4">X feels<tspan x="476" dy="4.2">tired</tspan></text></g>
<g id="n120" class="nd r"><ellipse cx="392" cy="328" rx="21" ry="8"/><text x="392" y="327.4">X wants to<tspan x="392" dy="4.2">take a break</tspan></text></g>
<g id="n121" class="nd o"><ellipse cx="464" cy="227" rx="21" ry="7"/><text x="464" y="226.4">X wanted to<tspan x="464" dy="4.2">save themselves</tspan></text></g>
<g id="n122" class="nd gr"><ellipse cx="278" cy="280" rx="13" ry="7"/><text x="278" y="279.4">X needs to<tspan x="278" dy="4.2">enlist</tspan></text></g>
<g id="n123" class="nd w"><ellipse cx="281" cy="312" rx="17" ry="8"/><text x="281" y="311.4">X joins the<tspan x="281" dy="4.2">military</tspan></text></g>
<g id="n124" class="nd pu"><ellipse cx="313" cy="288" rx="16" ry="9"/><text x="313" y="287.4">X needs to<tspan x="313" dy="4.2">train hard</tspan></text></g>
<g id="n125" class="nd pu"><ellipse cx="352" cy="306" rx="20" ry="8"/><text x="352" y="305.4">X needs to know<tspan x="352" dy="4.2">self-defense</tspan></text></g>
<g id="n126" class="nd gr"><ellipse cx="240" cy="281" rx="20" ry="7"/><text x="240" y="280.4">X wanted to serve<tspan x="240" dy="4.2">their country</tspan></text></g>
<g id="n127" class="nd o"><ellipse cx="227" cy="299" rx="19" ry="8"/><text x="227" y="298.4">X wanted to<tspan x="227" dy="4.2">protect others</tspan></text></g>
<g id="n128" class="nd o"><ellipse cx="228" cy="323" rx="20" ry="8"/><text x="228" y="322.4">X wanted to<tspan x="228" dy="4.2">save themselves</tspan></text></g>
<g id="n129" class="nd r"><ellipse cx="55" cy="214" rx="20" ry="8"/><text x="55" y="213.4">X wants to file a<tspan x="55" dy="4.2">police report</tspan></text></g>
<g id="n130" class="nd b"><ellipse cx="27" cy="305" rx="21" ry="7"/><text x="27" y="304.4">X wants to leave<tspan x="27" dy="4.2">the scene</tspan></text></g>
<g id="n131" class="nd gr"><ellipse cx="33" cy="344" rx="20" ry="7"/><text x="33" y="343.4">X wanted to serve<tspan x="33" dy="4.2">their country</tspan></text></g>
<g id="n132" class="nd o"><ellipse cx="26" cy="364" rx="18" ry="7"/><text x="26" y="363.4">X wanted to<tspan x="26" dy="4.2">protect others</tspan></text></g>
<g id="n133" class="nd o"><ellipse cx="25" cy="383" rx="20" ry="8"/><text x="25" y="382.4">X wanted to<tspan x="25" dy="4.2">save themselves</tspan></text></g>
<g id="n134" class="nd gr"><ellipse cx="171" cy="328" rx="14" ry="7"/><text x="171" y="327.4">X needs to<tspan x="171" dy="4.2">enlist</tspan></text></g>
<g id="n135" class="nd pu"><ellipse cx="110" cy="345" rx="15" ry="8"/><text x="110" y="344.4">X needs to<tspan x="110" dy="4.2">train hard</tspan></text></g>
<g id="n136" class="nd pu"><ellipse cx="143" cy="372" rx="20" ry="8"/><text x="143" y="371.4">X needs to know<tspan x="143" dy="4.2">self-defense</tspan></text></g>
<g id="n137" class="nd t"><ellipse cx="196" cy="347" rx="14" ry="5"/><text x="196" y="348.4">X is skilled</text></g>
<g id="n138" class="nd t"><ellipse cx="217" cy="356" rx="15" ry="5"/><text x="217" y="357.4">X is brave</text></g>
<g id="n139" class="nd t"><ellipse cx="220" cy="368" rx="14" ry="5"/><text x="220" y="369.4">X is strong</text></g>
<g id="n140" class="nd gr"><ellipse cx="235" cy="346" rx="10" ry="5"/><text x="235" y="347.4">bossy</text></g>
<g id="n141" class="nd w"><ellipse cx="212" cy="441" rx="21" ry="9"/><text x="212" y="440.4">X pushes Y<tspan x="212" dy="4.2">around</tspan></text></g>
<g id="n142" class="nd lb"><ellipse cx="254" cy="408" rx="14" ry="7"/><text x="254" y="407.4">Y feels<tspan x="254" dy="4.2">ashamed</tspan></text></g>
<g id="n143" class="nd lb"><ellipse cx="265" cy="447" rx="13" ry="7"/><text x="265" y="446.4">Y feels<tspan x="265" dy="4.2">weak</tspan></text></g>
<g id="n144" class="nd r"><ellipse cx="27" cy="462" rx="22" ry="8"/><text x="27" y="461.4">X wants to file a<tspan x="27" dy="4.2">police report</tspan></text></g>
<g id="n145" class="nd r"><ellipse cx="30" cy="481" rx="22" ry="8"/><text x="30" y="480.4">X wants to leave<tspan x="30" dy="4.2">the scene</tspan></text></g>
<g id="n146" class="nd b"><ellipse cx="37" cy="510" rx="11" ry="8"/><text x="37" y="509.4">X feels<tspan x="37" dy="4.2">angry</tspan></text></g>
<g id="n147" class="nd b"><ellipse cx="52" cy="525" rx="13" ry="7"/><text x="52" y="524.4">X feels<tspan x="52" dy="4.2">tired</tspan></text></g>
<g id="n148" class="nd g"><ellipse cx="69" cy="541" rx="14" ry="7"/><text x="69" y="540.4">X's heart<tspan x="69" dy="4.2">races</tspan></text></g>
<g id="n149" class="nd g"><ellipse cx="88" cy="555" rx="15" ry="7"/><text x="88" y="554.4">X gains an<tspan x="88" dy="4.2">enemy</tspan></text></g>
<g id="n150" class="nd lg"><ellipse cx="124" cy="566" rx="16" ry="6"/><text x="124" y="567.4">Y falls back</text></g>
<g id="n151" class="nd lg"><ellipse cx="156" cy="556" rx="17" ry="6"/><text x="156" y="557.4">Y gets hurt</text></g>
<g id="n152" class="nd p"><ellipse cx="205" cy="566" rx="17" ry="9"/><text x="205" y="565.4">Y wants to<tspan x="205" dy="4.2">attack X again</tspan></text></g>
<g id="n153" class="nd o"><ellipse cx="449" cy="551" rx="19" ry="6"/><text x="449" y="555">save themselves</text></g>
<g id="x-reacts" class="m"><ellipse cx="171" cy="50" rx="42" ry="14"/><text x="171" y="47">X reacts to</text><text x="171" y="60">Y's comment</text></g>
<g id="x-pushes-y-around" class="m"><ellipse cx="297" cy="39" rx="29" ry="14"/><text x="297" y="37">X pushes</text><text x="297" y="49">Y around</text></g>
<g id="x-stops-y" class="m"><ellipse cx="492" cy="62" rx="48" ry="15"/><text x="492" y="66">X stops Y</text></g>
<g id="x-defends" class="m"><ellipse cx="851" cy="126" rx="42" ry="21"/><text x="851" y="124">X defends X</text><text x="851" y="136">against Y's attack</text></g>
<g id="x-calls-for-justice" class="m"><ellipse cx="360" cy="177" rx="43" ry="15"/><text x="360" y="181">X calls for justice</text></g>
<g id="x-joins-military-1" class="m"><ellipse cx="649" cy="150" rx="38" ry="13"/><text x="649" y="148">X joins</text><text x="649" y="160">the military</text></g>
<g id="x-calls-police" class="m"><ellipse cx="238" cy="232" rx="41" ry="15"/><text x="238" y="229">X calls</text><text x="238" y="241">the police</text></g>
<g id="x-joins-military-2" class="m"><ellipse cx="97" cy="270" rx="34" ry="18"/><text x="97" y="265">X joins the</text><text x="97" y="278">military</text></g>
<g id="x-repels" class="m"><ellipse cx="574" cy="272" rx="47" ry="18" filter="url(#sh)" style="stroke-width:2"/>
<g fill="#111" stroke="#111" stroke-width="2" stroke-linecap="round"><circle cx="536" cy="264" r="2.2"/><circle cx="551" cy="268" r="2.2"/><path fill="none" d="M536,267 L539,275 L535,283 M539,275 L543,283 M537,269 L546,265 M537,269 L531,272 M551,271 L550,278 L546,284 M550,278 L554,284 M551,273 L546,270 M551,273 L556,271"/></g>
<text x="560" y="266" style="font-size:12px;text-anchor:start">X repels</text><text x="560" y="279" style="font-size:12px;text-anchor:start">Y's</text><text x="541" y="292" style="font-size:12px;text-anchor:start">attack</text></g>
<g id="x-saves-the-day" class="m"><ellipse cx="962" cy="262" rx="31" ry="13"/><text x="962" y="260">X saves</text><text x="962" y="272">the day</text></g>
<g id="x-stops-the-fire" class="m"><ellipse cx="907" cy="386" rx="30" ry="13"/><text x="907" y="382">X stops</text><text x="907" y="395">the fire</text></g>
<g id="x-pushes-back" class="m"><ellipse cx="367" cy="409" rx="41" ry="12"/><text x="367" y="412">X pushes back</text></g>
<g id="x-catches" class="m"><ellipse cx="119" cy="443" rx="43" ry="20"/><text x="119" y="437">X catches a</text><text x="119" y="450">robber in action</text></g>
<g id="x-resists" class="m"><ellipse cx="640" cy="456" rx="40" ry="17"/><text x="640" y="453">X resists</text></g>
<g id="x-stops-opponent" class="m"><ellipse cx="555" cy="573" rx="42" ry="13"/><text x="555" y="570">X stops X's</text><text x="555" y="582">opponent</text></g>
<g id="caption">
<rect x="93" y="447" width="900" height="105" fill="#fff" stroke="#333" stroke-width="1.5" filter="url(#sh)"/>
<text x="543" y="492" text-anchor="middle" font-size="42" font-weight="300" fill="#111" textLength="803">880,000 triples for AI systems to reason about</text>
<text x="543" y="544" text-anchor="middle" font-size="42" font-weight="300" fill="#111" textLength="717">causes and effects of everyday situations</text>
</g>
</svg>
